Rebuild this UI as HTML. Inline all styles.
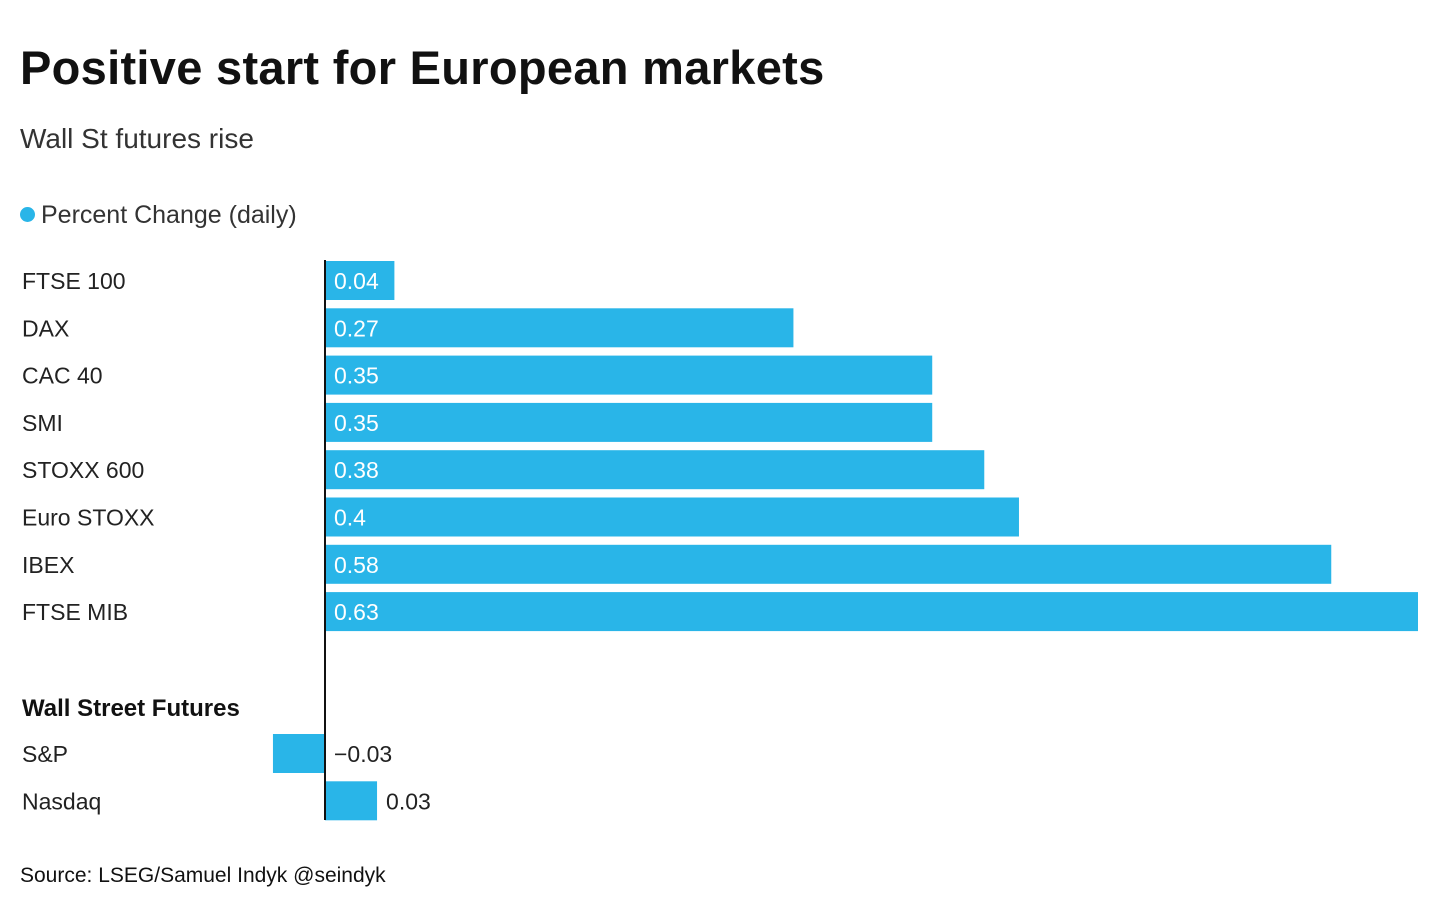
<!DOCTYPE html>
<html><head><meta charset="utf-8">
<style>
body{margin:0;width:1440px;height:915px;background:#fff;font-family:"Liberation Sans",sans-serif;color:#111;overflow:hidden;position:relative}
.t{position:absolute;white-space:nowrap}
</style></head><body>
<div class="t" style="left:20px;top:40px;font-size:47px;font-weight:bold;letter-spacing:0.3px">Positive start for European markets</div>
<div class="t" style="left:20px;top:123px;font-size:28px;color:#333">Wall St futures rise</div>
<div class="t" style="left:20px;top:201px;font-size:25px;color:#333"><span style="display:inline-block;width:15px;height:15px;border-radius:50%;background:#29b5e8;margin-right:6px;vertical-align:1px"></span>Percent Change (daily)</div>
<svg id="chart" width="1440" height="915" style="position:absolute;left:0;top:0"></svg>
<div class="t" style="left:20px;top:864px;font-size:21px;color:#111">Source: LSEG/Samuel Indyk @seindyk</div>
<script>
const euCategories=["FTSE 100","DAX","CAC 40","SMI","STOXX 600","Euro STOXX","IBEX","FTSE MIB"];
const euValues=[0.04,0.27,0.35,0.35,0.38,0.4,0.58,0.63];
const usCategories=["S&P","Nasdaq"];
const usValues=[-0.03,0.03];
const usLabels=["\u22120.03","0.03"];
const svg=document.getElementById('chart');
const NS='http://www.w3.org/2000/svg';
const x0=325, scale=1093/0.63;
const xs=v=>x0+v*scale;
function mk(tag,attrs){const e=document.createElementNS(NS,tag);for(const k in attrs)e.setAttribute(k,attrs[k]);svg.appendChild(e);return e;}
function row(cat,val,label,y,inside,i,group){
  const xa=Math.min(xs(0),xs(val)),w=Math.abs(xs(val)-xs(0));
  const r=mk('rect',{x:xa,y:y,width:w,height:39,fill:'#29b5e8'});
  
  
  const t=mk('text',{x:22,y:y+28,'font-size':23,fill:'#222'});t.textContent=cat;
  
  
  const lx=inside?x0+9:Math.max(xs(0),xs(val))+9;
  const v=mk('text',{x:lx,y:y+28,'font-size':23,fill:inside?'#fff':'#222'});v.textContent=label;
  
  
}
euCategories.forEach((c,i)=>row(c,euValues[i],String(euValues[i]),261+i*47.3,true,i,'eu'));
const h=mk('text',{x:22,y:716,'font-size':24,'font-weight':'bold',fill:'#111'});h.textContent='Wall Street Futures';


usCategories.forEach((c,i)=>row(c,usValues[i],usLabels[i],734+i*47.3,false,i,'us'));
const ax=mk('line',{x1:x0,x2:x0,y1:260,y2:820,stroke:'#111','stroke-width':2});


</script>
</body></html>
